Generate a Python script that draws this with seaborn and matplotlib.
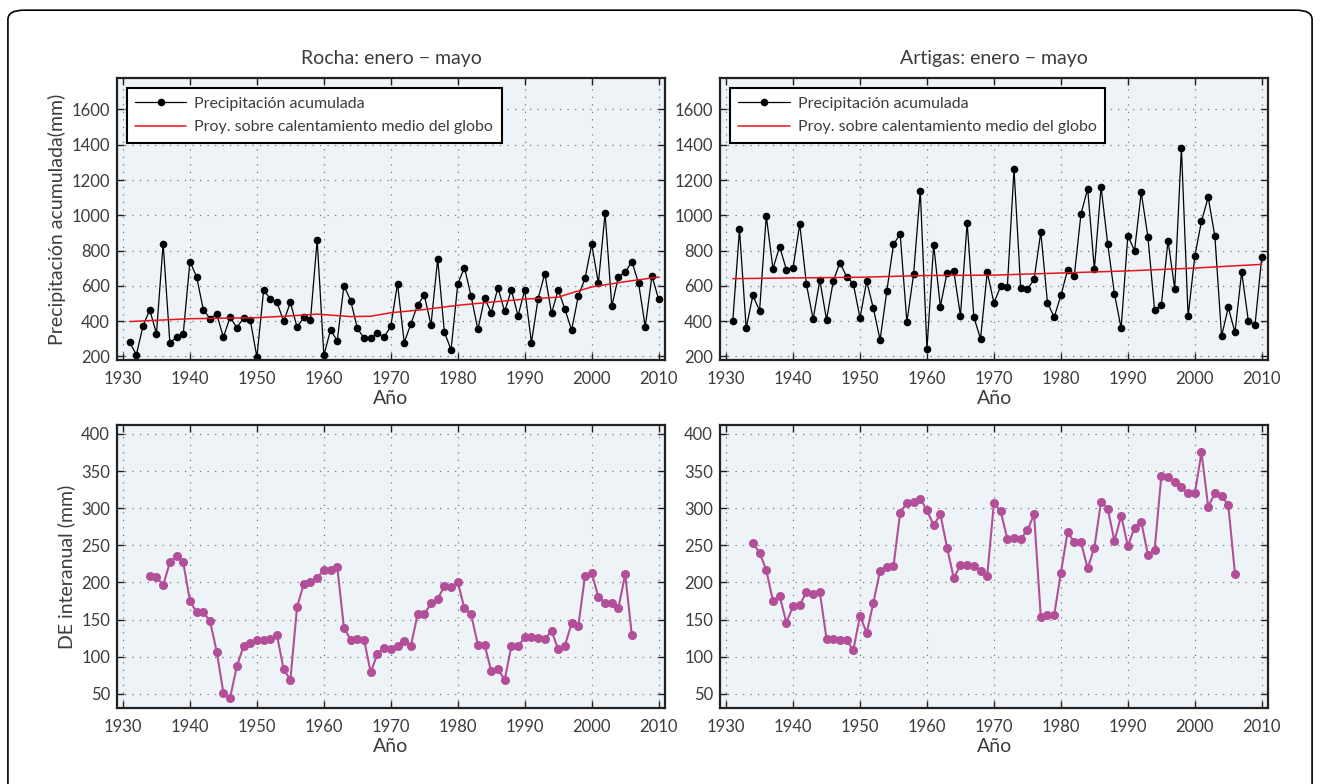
import pandas as pd
import seaborn as sns
import matplotlib.pyplot as plt
from matplotlib.patches import FancyBboxPatch

# --- data ---
years_top = list(range(1931, 2011))
rocha_precip = [280, 210, 374, 464, 330, 840, 279, 308, 328, 738,
                651, 464, 415, 440, 309, 423, 364, 417, 408, 196,
                574, 528, 506, 400, 506, 366, 421, 408, 860, 206,
                351, 289, 602, 517, 360, 304, 304, 332, 309, 372,
                613, 279, 385, 492, 547, 379, 753, 338, 238, 611,
                704, 540, 353, 530, 449, 589, 455, 577, 430, 577,
                279, 528, 670, 445, 577, 468, 349, 543, 642, 836,
                615, 1013, 485, 653, 677, 738, 615, 368, 658, 523]
artigas_precip = [400, 920, 360, 546, 459, 997, 698, 823, 692, 703,
                  950, 609, 411, 633, 408, 626, 732, 652, 612, 419,
                  626, 472, 294, 569, 836, 893, 394, 665, 1138, 243,
                  832, 483, 675, 684, 432, 957, 423, 300, 677, 504,
                  597, 593, 1261, 586, 580, 637, 904, 504, 423, 546,
                  690, 656, 1007, 1151, 694, 1162, 836, 555, 360, 885,
                  800, 1130, 876, 461, 491, 857, 584, 1382, 427, 768,
                  967, 1102, 880, 315, 478, 337, 679, 400, 381, 764]

trend_years_rocha = [1931, 1940, 1950, 1955, 1959, 1964, 1967, 1970, 1975,
                     1980, 1985, 1990, 1995, 1997, 2000, 2005, 2010]
trend_rocha = [398, 414, 420, 430, 440, 426, 428, 448, 466,
               490, 508, 525, 536, 560, 594, 624, 650]
trend_years_artigas = [1931, 1940, 1950, 1960, 1970, 1980, 1990, 2000, 2010]
trend_artigas = [641, 645, 649, 659, 661, 673, 685, 701, 722]

years_bot = list(range(1934, 2007))
rocha_sd = [209, 208, 196, 227, 236, 227, 175, 160, 160, 148,
            107, 51, 45, 87, 114, 119, 123, 122, 124, 129,
            83, 69, 167, 198, 201, 206, 217, 217, 221, 139,
            123, 124, 123, 79, 104, 112, 110, 114, 121, 115,
            157, 157, 172, 178, 195, 194, 200, 165, 157, 116,
            116, 81, 83, 69, 114, 114, 126, 127, 125, 124,
            135, 110, 115, 145, 141, 209, 213, 180, 173, 172,
            166, 211, 129]
artigas_sd = [253, 240, 217, 175, 182, 146, 168, 170, 187, 184,
              187, 124, 124, 123, 122, 109, 155, 132, 173, 216,
              221, 222, 294, 307, 308, 313, 297, 277, 292, 247,
              206, 223, 223, 222, 216, 209, 307, 296, 259, 260,
              259, 270, 292, 153, 156, 156, 213, 268, 254, 254,
              219, 247, 309, 299, 256, 290, 249, 274, 282, 237,
              244, 343, 342, 335, 328, 320, 320, 375, 302, 320,
              317, 304, 212]

titles = ["Rocha: enero \u2212 mayo", "Artigas: enero \u2212 mayo"]

sns.set_theme(style="ticks")
plt.rcParams["font.family"] = ["Lato", "DejaVu Sans"]
plt.rcParams["text.color"] = "#3c3c3c"
plt.rcParams["axes.labelcolor"] = "#3c3c3c"
plt.rcParams["xtick.color"] = "#222222"
plt.rcParams["ytick.color"] = "#222222"
plt.rcParams["xtick.labelcolor"] = "#3c3c3c"
plt.rcParams["ytick.labelcolor"] = "#3c3c3c"

fig = plt.figure(figsize=(13.2, 7.84), dpi=100)
fig.patches.append(FancyBboxPatch((0.006, -0.05), 0.988, 1.037,
                                  boxstyle="round,pad=0,rounding_size=0.012",
                                  transform=fig.transFigure, fill=False,
                                  edgecolor="black", linewidth=1.2))

lefts = [0.0886, 0.5455]
width = 0.4152
top_ax = [fig.add_axes([l, 0.5408, width, 0.3597]) for l in lefts]
bot_ax = [fig.add_axes([l, 0.0969, width, 0.361]) for l in lefts]

magenta = "#b24f98"


def style(ax, yticks, ylim):
    ax.set_facecolor("#eef3f8")
    ax.set_xlim(1929.1, 2010.95)
    ax.set_ylim(*ylim)
    ax.set_xticks(range(1930, 2011, 10))
    ax.set_yticks(yticks)
    ax.tick_params(direction="in", top=True, right=True, length=5,
                   width=1, labelsize=12)
    ax.tick_params(axis="x", pad=8)
    ax.tick_params(axis="y", pad=5)
    ax.grid(True, linestyle=(0, (1, 5)), color="#777777", linewidth=0.9)
    for s in ax.spines.values():
        s.set_linewidth(1.6)
        s.set_color("#222222")
    ax.set_xlabel("A\u00f1o", fontsize=14, labelpad=2)


top_series = [(years_top, rocha_precip, trend_years_rocha, trend_rocha),
              (years_top, artigas_precip, trend_years_artigas, trend_artigas)]
for i, ax in enumerate(top_ax):
    yrs, vals, tyrs, tvals = top_series[i]
    df = pd.DataFrame({"year": yrs, "mm": vals})
    dft = pd.DataFrame({"year": tyrs, "mm": tvals})
    sns.lineplot(data=df, x="year", y="mm", ax=ax, color="black",
                 linewidth=0.9, marker="o", markersize=5.5,
                 markeredgewidth=0, label="Precipitaci\u00f3n acumulada")
    sns.lineplot(data=dft, x="year", y="mm", ax=ax, color="#e8141b",
                 linewidth=1.1, label="Proy. sobre calentamiento medio del globo")
    style(ax, range(200, 1601, 200), (180, 1778))
    ax.set_ylabel("")
    ax.set_title(titles[i], fontsize=14, pad=10)
    leg = ax.legend(loc="upper left", fontsize=11.5, frameon=True, fancybox=False,
                    edgecolor="black", framealpha=1, borderpad=0.55,
                    handlelength=3.2, handletextpad=0.5, labelspacing=0.6,
                    bbox_to_anchor=(0.0, 1.0), borderaxespad=0.6)
    leg.get_frame().set_linewidth(1.5)
top_ax[0].set_ylabel("Precipitaci\u00f3n acumulada(mm)", fontsize=14, labelpad=4)

bot_series = [rocha_sd, artigas_sd]
for i, ax in enumerate(bot_ax):
    df = pd.DataFrame({"year": years_bot, "sd": bot_series[i]})
    sns.lineplot(data=df, x="year", y="sd", ax=ax, color=magenta,
                 linewidth=1.5, marker="o", markersize=6.5,
                 markeredgewidth=0)
    style(ax, range(50, 401, 50), (31, 412))
    ax.set_ylabel("")
bot_ax[0].set_ylabel("DE interanual (mm)", fontsize=14, labelpad=4)

fig.savefig("out.png", dpi=100)
